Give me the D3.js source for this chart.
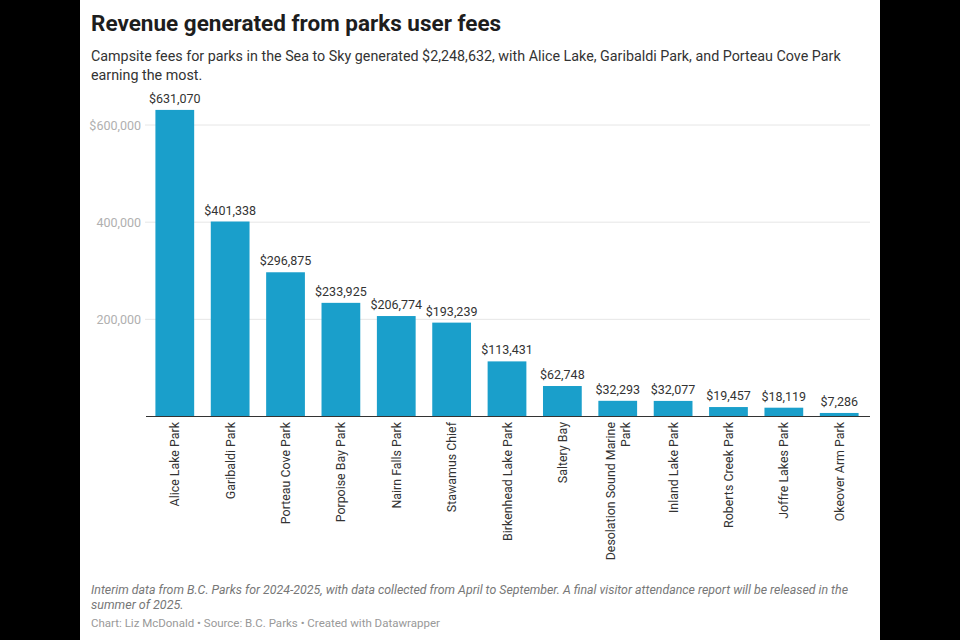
<!DOCTYPE html>
<html>
<head>
<meta charset="utf-8">
<script src="https://cdn.jsdelivr.net/npm/d3@7"></script>
<style>
  html, body { margin: 0; padding: 0; background: #000; }
  svg { display: block; }
  text { font-family: Roboto, "Noto Sans", sans-serif; }
</style>
</head>
<body>
<svg id="chart" width="960" height="640"></svg>
<script>
const categories = ["Alice Lake Park", "Garibaldi Park", "Porteau Cove Park", "Porpoise Bay Park", "Nairn Falls Park", "Stawamus Chief", "Birkenhead Lake Park", "Saltery Bay", "Desolation Sound Marine Park", "Inland Lake Park", "Roberts Creek Park", "Joffre Lakes Park", "Okeover Arm Park"];
const revenue = [631070, 401338, 296875, 233925, 206774, 193239, 113431, 62748, 32293, 32077, 19457, 18119, 7286];
const yTicks = [200000, 400000, 600000];
const yTickLabels = ["200,000", "400,000", "$600,000"];
const labelLines = [["Alice Lake Park"], ["Garibaldi Park"], ["Porteau Cove Park"], ["Porpoise Bay Park"], ["Nairn Falls Park"], ["Stawamus Chief"], ["Birkenhead Lake Park"], ["Saltery Bay"], ["Desolation Sound Marine", "Park"], ["Inland Lake Park"], ["Roberts Creek Park"], ["Joffre Lakes Park"], ["Okeover Arm Park"]];

const svg = d3.select("#chart");
svg.append("rect").attr("x", 80).attr("y", 0).attr("width", 800).attr("height", 640).attr("fill", "#fff");

svg.append("text").attr("x", 91).attr("y", 31).attr("font-size", 22.5).attr("font-weight", 700).attr("fill", "#1d1d1d")
  .text("Revenue generated from parks user fees");
svg.append("text").attr("x", 91).attr("y", 61).attr("font-size", 14.3).attr("fill", "#333")
  .text("Campsite fees for parks in the Sea to Sky generated $2,248,632, with Alice Lake, Garibaldi Park, and Porteau Cove Park");
svg.append("text").attr("x", 91).attr("y", 80).attr("font-size", 14.3).attr("fill", "#333")
  .text("earning the most.");

const x = d3.scaleBand().domain(categories).range([146, 868]).paddingInner(0.3).paddingOuter(0.17);
const y = d3.scaleLinear().domain([0, 600000]).range([416.5, 125]);

const grid = svg.append("g");
grid.selectAll("line").data(yTicks).join("line")
  .attr("x1", 145).attr("x2", 870).attr("y1", d => y(d)).attr("y2", d => y(d))
  .attr("stroke", "#e6e6e6").attr("stroke-width", 1);
grid.selectAll("text").data(yTicks).join("text")
  .attr("x", 141).attr("y", d => y(d) + 4.5).attr("text-anchor", "end")
  .attr("font-size", 12.5).attr("fill", "#b0b0b0")
  .text((d, i) => yTickLabels[i]);

svg.append("g").selectAll("rect").data(revenue).join("rect")
  .attr("x", (d, i) => x(categories[i])).attr("width", x.bandwidth())
  .attr("y", d => y(d)).attr("height", d => y(0) - y(d))
  .attr("fill", "#1a9fcb");

const fmt = d3.format(",");
svg.append("g").selectAll("text").data(revenue).join("text")
  .attr("x", (d, i) => x(categories[i]) + x.bandwidth() / 2)
  .attr("y", d => y(d) - 7)
  .attr("text-anchor", "middle").attr("font-size", 12.5).attr("fill", "#333")
  .text(d => "$" + fmt(d));

svg.append("line").attr("x1", 146).attr("x2", 870).attr("y1", y(0)).attr("y2", y(0))
  .attr("stroke", "#333").attr("stroke-width", 1);

const xl = svg.append("g");
categories.forEach((c, i) => {
  const cx = x(c) + x.bandwidth() / 2;
  const lines = labelLines[i];
  const lh = 15;
  lines.forEach((ln, j) => {
    const off = (j - (lines.length - 1) / 2) * lh;
    xl.append("text")
      .attr("transform", `translate(${cx + off + 4.5},422) rotate(-90)`)
      .attr("text-anchor", "end").attr("font-size", 12.4).attr("fill", "#333")
      .text(ln);
  });
});

svg.append("text").attr("x", 91).attr("y", 594).attr("font-size", 12.5).attr("font-style", "italic").attr("fill", "#777")
  .attr("textLength", 757).attr("lengthAdjust", "spacingAndGlyphs")
  .text("Interim data from B.C. Parks for 2024-2025, with data collected from April to September. A final visitor attendance report will be released in the");
svg.append("text").attr("x", 91).attr("y", 609).attr("font-size", 12.5).attr("font-style", "italic").attr("fill", "#777")
  .text("summer of 2025.");
svg.append("text").attr("x", 91).attr("y", 627).attr("font-size", 11.5).attr("fill", "#999")
  .text("Chart: Liz McDonald • Source: B.C. Parks • Created with Datawrapper");
</script>
</body>
</html>
